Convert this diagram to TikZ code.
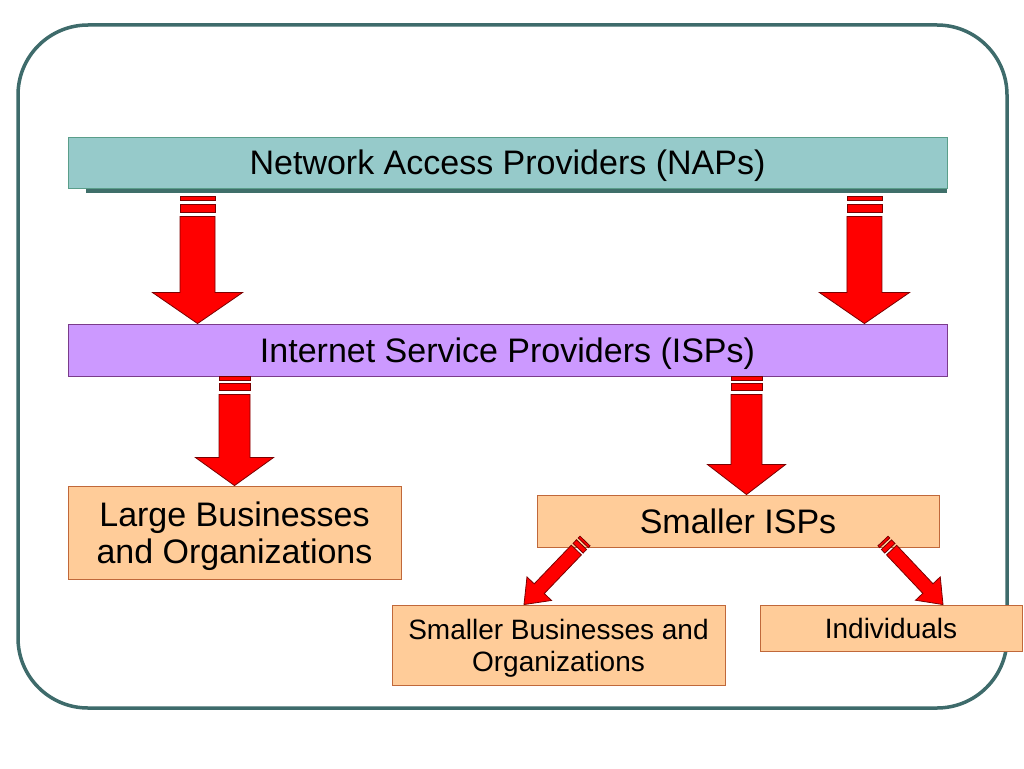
\documentclass[tikz,border=0pt]{standalone}
\usepackage{fontspec}
\setmainfont{Liberation Sans}
\usetikzlibrary{calc}
\definecolor{framec}{HTML}{3E6B6B}
\definecolor{napfill}{HTML}{96CACA}
\definecolor{napline}{HTML}{5A9E8A}
\definecolor{napshadow}{HTML}{3F6F6A}
\definecolor{ispfill}{HTML}{CC99FF}
\definecolor{ispline}{HTML}{7A3C8A}
\definecolor{orgfill}{HTML}{FFCC99}
\definecolor{orgline}{HTML}{C0683A}
\definecolor{arrowline}{HTML}{7A0000}
\tikzset{
  box/.style={draw, line width=0.9pt, inner sep=0pt, align=center, text=black, text depth=0pt},
  napbox/.style={box, fill=napfill, draw=napline, font=\fontsize{34}{37}\selectfont},
  ispbox/.style={box, fill=ispfill, draw=ispline, font=\fontsize{34}{37}\selectfont},
  bigorg/.style={box, fill=orgfill, draw=orgline, font=\fontsize{34}{37}\selectfont},
  smallorg/.style={box, fill=orgfill, draw=orgline, font=\fontsize{28}{32}\selectfont},
  blk/.style={fill=red, draw=arrowline, line width=0.8pt, line join=miter},
  framestyle/.style={draw=framec, line width=3.5pt, rounded corners=70pt}
}
% #1 start, #2 tip, #3 shaft half width, #4 head half width, #5 head length, #6 stripe unit
\newcommand\blkrect[5]{%
  \filldraw[blk] ($(#1)!#3!(#2)!#5!90:(#2)$) -- ($(#1)!#4!(#2)!#5!90:(#2)$)
    -- ($(#1)!#4!(#2)!#5!270:(#2)$) -- ($(#1)!#3!(#2)!#5!270:(#2)$) -- cycle;}
\newcommand\blkarrow[6]{%
  \blkrect{#1}{#2}{0pt}{1*#6}{#3}%
  \blkrect{#1}{#2}{2*#6}{4*#6}{#3}%
  \filldraw[blk] ($(#1)!5*#6!(#2)!#3!90:(#2)$)
    -- ($(#2)!#5!(#1)!#3!270:(#1)$)
    -- ($(#2)!#5!(#1)!#4!270:(#1)$)
    -- (#2)
    -- ($(#2)!#5!(#1)!#4!90:(#1)$)
    -- ($(#2)!#5!(#1)!#3!90:(#1)$)
    -- ($(#1)!5*#6!(#2)!#3!270:(#2)$) -- cycle;}
\begin{document}
\begin{tikzpicture}[x=1pt,y=-1pt]
\useasboundingbox (0,0) rectangle (1024,768);
\fill[white] (0,0) rectangle (1024,768);
\draw[framestyle] (18,25) rectangle (1007,708);

\node[napbox, minimum width=879pt, minimum height=51pt] (napbg) at (507.5,162.5) {};
\fill[napshadow] ([xshift=18pt]napbg.south west) rectangle ([yshift=-5pt]napbg.south east);
\node[napbox, minimum width=879pt, minimum height=51pt] (nap) at (507.5,162.5) {Network Access Providers (NAPs)};

\node[ispbox, minimum width=879pt, minimum height=52pt] (isp) at (507.5,350) {Internet Service Providers (ISPs)};

\node[bigorg, minimum width=333pt, minimum height=93pt] (large) at (234.5,532.5) {Large Businesses\\and Organizations};
\node[bigorg, minimum width=402pt, minimum height=52pt] (sisp) at (738,521) {Smaller ISPs};
\node[smallorg, minimum width=333pt, minimum height=80pt] (sbus) at (558.5,645) {Smaller Businesses and\\Organizations};
\node[smallorg, minimum width=262pt, minimum height=46pt] (indiv) at (891,628) {Individuals};

% connectors
\coordinate (a1s) at ([xshift=130pt,yshift=-8pt]nap.south west);
\coordinate (a1e) at (a1s |- isp.north);
\coordinate (a2s) at ([xshift=-83pt,yshift=-8pt]nap.south east);
\coordinate (a2e) at (a2s |- isp.north);
\coordinate (a3s) at (large.north |- isp.south);
\coordinate (a3e) at (large.north);
\coordinate (a4s) at (746.5,0 |- isp.south);
\coordinate (a4e) at (a4s |- sisp.north);
\coordinate (a5s) at (585,541);
\coordinate (a5e) at (sbus.north -| 524,0);
\coordinate (a6s) at (883,541);
\coordinate (a6e) at (indiv.north -| 943,0);

\blkarrow{a1s}{a1e}{17.5pt}{45pt}{31pt}{4pt}
\blkarrow{a2s}{a2e}{17.5pt}{45pt}{31pt}{4pt}
\blkarrow{a3s}{a3e}{15.5pt}{39pt}{28pt}{3.6pt}
\blkarrow{a4s}{a4e}{15.5pt}{39pt}{30pt}{3.6pt}
\blkarrow{a5s}{a5e}{7pt}{17pt}{22pt}{2.5pt}
\blkarrow{a6s}{a6e}{7pt}{17pt}{22pt}{2.5pt}
\end{tikzpicture}
\end{document}
